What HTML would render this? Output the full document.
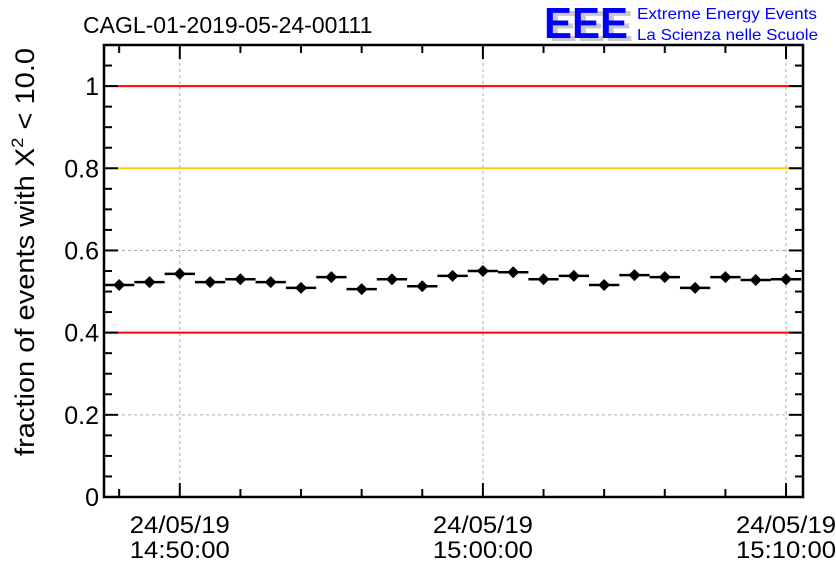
<!DOCTYPE html>
<html><head><meta charset="utf-8"><style>
body{margin:0;background:#fff}
svg{display:block;font-family:"Liberation Sans",sans-serif}
</style></head><body>
<svg id="chart" width="836" height="572" viewBox="0 0 836 572">
<text x="83" y="33" font-size="23">CAGL-01-2019-05-24-00111</text>
<g>
<text x="549" y="41" font-size="44" font-weight="bold" fill="#c8c8c8" textLength="84" lengthAdjust="spacingAndGlyphs">EEE</text>
<text x="544" y="38" font-size="44" font-weight="bold" fill="#0000ff" textLength="84" lengthAdjust="spacingAndGlyphs">EEE</text>
<text x="637" y="19" font-size="16" fill="#0000ff" textLength="180" lengthAdjust="spacingAndGlyphs">Extreme Energy Events</text>
<text x="637" y="40" font-size="16" fill="#0000ff" textLength="181" lengthAdjust="spacingAndGlyphs">La Scienza nelle Scuole</text>
</g>
<text transform="translate(34,252) rotate(-90)" text-anchor="middle" font-size="27" textLength="408" lengthAdjust="spacingAndGlyphs">fraction of events with X<tspan font-size="17" dy="-11">2</tspan><tspan dy="11"> &lt; 10.0</tspan></text>
<g id="grid"></g><g id="ref"></g><g id="axes"></g><g id="marks"></g>
</svg>
<script>
const times=[0,1,2,3,4,5,6,7,8,9,10,11,12,13,14,15,16,17,18,19,20,21,22]; // minutes after 14:48
const values=[0.516,0.523,0.543,0.523,0.530,0.523,0.509,0.535,0.506,0.530,0.513,0.538,0.550,0.547,0.530,0.538,0.516,0.540,0.535,0.509,0.535,0.528,0.530];
const yTicks=[0,0.2,0.4,0.6,0.8,1];
const yTickLabels=["0","0.2","0.4","0.6","0.8","1"];
const xMajor=[2,12,22]; // minutes after 14:48
const xDateLabels=["24/05/19","24/05/19","24/05/19"];
const xTimeLabels=["14:50:00","15:00:00","15:10:00"];
const refLines=[1,0.8,0.4];
const refColors=["#ff0000","#ffcc00","#ff0000"];
const L=104,R=803,T=45,B=497;
const x0=-0.5,x1=22.56,yMax=1.1;
const X=t=>L+(t-x0)/(x1-x0)*(R-L);
const Y=v=>B-v/yMax*(B-T);
const NS="http://www.w3.org/2000/svg";
function mk(p,tag,a){const e=document.createElementNS(NS,tag);for(const k in a)e.setAttribute(k,a[k]);document.getElementById(p).appendChild(e);return e;}
yTicks.forEach((v,i)=>{
 const g=mk('grid','line',{x1:L,x2:R,y1:Y(v),y2:Y(v),stroke:'#aaa','stroke-dasharray':'3,3'});
 
 
 const t=mk('axes','text',{x:L-5,y:Y(v)+9,'text-anchor':'end','font-size':25});
 t.textContent=yTickLabels[i];
 
 
});
xMajor.forEach((m,i)=>{
 const g=mk('grid','line',{x1:X(m),x2:X(m),y1:T,y2:B,stroke:'#aaa','stroke-dasharray':'3,3'});
 
 
 const t=mk('axes','text',{x:X(m),y:533,'text-anchor':'middle','font-size':24,textLength:100,lengthAdjust:'spacingAndGlyphs'});
 t.textContent=xDateLabels[i];
 
 
 const t2=mk('axes','text',{x:X(m),y:558,'text-anchor':'middle','font-size':24,textLength:100,lengthAdjust:'spacingAndGlyphs'});
 t2.textContent=xTimeLabels[i];
 
 
});
refLines.forEach((v,i)=>{
 const l=mk('ref','line',{x1:L,x2:R,y1:Y(v),y2:Y(v),stroke:refColors[i],'stroke-width':2});
 
 
});
for(let k=0;k<=22;k++){const v=k*0.05;const maj=k%4==0;const len=maj?14:8;
 mk('axes','line',{x1:L,x2:L+len,y1:Y(v),y2:Y(v),stroke:'#000','stroke-width':2});
 mk('axes','line',{x1:R,x2:R-len,y1:Y(v),y2:Y(v),stroke:'#000','stroke-width':2});}
for(let m=0;m<=22;m+=2){const maj=(m-2)%10==0;const len=maj?14:8;
 mk('axes','line',{x1:X(m),x2:X(m),y1:B,y2:B-len,stroke:'#000','stroke-width':2});
 mk('axes','line',{x1:X(m),x2:X(m),y1:T,y2:T+len,stroke:'#000','stroke-width':2});}
const fr=mk('axes','rect',{x:L,y:T,width:R-L,height:B-T,fill:'none',stroke:'#000','stroke-width':2.5});


times.forEach((t,i)=>{
 const v=values[i];
 const g=mk('marks','g',{});
 
 
 const e=document.createElementNS(NS,'line');
 e.setAttribute('x1',X(t-0.5));e.setAttribute('x2',Math.min(X(t+0.5),R));e.setAttribute('y1',Y(v));e.setAttribute('y2',Y(v));e.setAttribute('stroke','#000');e.setAttribute('stroke-width',2.5);g.appendChild(e);
 const d=document.createElementNS(NS,'path');
 const cx=X(t),cy=Y(v);
 d.setAttribute('d',`M${cx-6},${cy}L${cx},${cy-6}L${cx+6},${cy}L${cx},${cy+6}Z`);d.setAttribute('fill','#000');g.appendChild(d);
});
</script>
</body></html>
